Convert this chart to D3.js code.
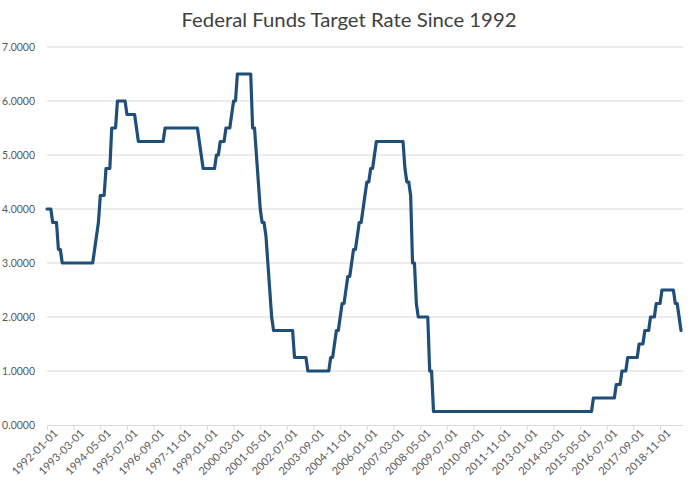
<!DOCTYPE html>
<html><head><meta charset="utf-8">
<script src="https://cdn.jsdelivr.net/npm/d3@7"></script>
<style>body{margin:0;background:#fff}svg{display:block}</style>
</head><body>
<svg id="c" width="693" height="483"></svg>
<script>
const title = "Federal Funds Target Rate Since 1992";
const startYear = 1992;
// end-of-month target rate, one row per year (Jan..Dec)
const rates1992_1999 = [
  [4.00,4.00,4.00,3.75,3.75,3.75,3.25,3.25,3.00,3.00,3.00,3.00],
  [3.00,3.00,3.00,3.00,3.00,3.00,3.00,3.00,3.00,3.00,3.00,3.00],
  [3.00,3.25,3.50,3.75,4.25,4.25,4.25,4.75,4.75,4.75,5.50,5.50],
  [5.50,6.00,6.00,6.00,6.00,6.00,5.75,5.75,5.75,5.75,5.75,5.50],
  [5.25,5.25,5.25,5.25,5.25,5.25,5.25,5.25,5.25,5.25,5.25,5.25],
  [5.25,5.25,5.50,5.50,5.50,5.50,5.50,5.50,5.50,5.50,5.50,5.50],
  [5.50,5.50,5.50,5.50,5.50,5.50,5.50,5.50,5.25,5.00,4.75,4.75],
  [4.75,4.75,4.75,4.75,4.75,5.00,5.00,5.25,5.25,5.25,5.50,5.50]
];
const rates2000_2008 = [
  [5.50,5.75,6.00,6.00,6.50,6.50,6.50,6.50,6.50,6.50,6.50,6.50],
  [5.50,5.50,5.00,4.50,4.00,3.75,3.75,3.50,3.00,2.50,2.00,1.75],
  [1.75,1.75,1.75,1.75,1.75,1.75,1.75,1.75,1.75,1.75,1.25,1.25],
  [1.25,1.25,1.25,1.25,1.25,1.00,1.00,1.00,1.00,1.00,1.00,1.00],
  [1.00,1.00,1.00,1.00,1.00,1.25,1.25,1.50,1.75,1.75,2.00,2.25],
  [2.25,2.50,2.75,2.75,3.00,3.25,3.25,3.50,3.75,3.75,4.00,4.25],
  [4.50,4.50,4.75,4.75,5.00,5.25,5.25,5.25,5.25,5.25,5.25,5.25],
  [5.25,5.25,5.25,5.25,5.25,5.25,5.25,5.25,4.75,4.50,4.50,4.25],
  [3.00,3.00,2.25,2.00,2.00,2.00,2.00,2.00,2.00,1.00,1.00,0.25]
];
const rates2009_2019 = [
  [0.25,0.25,0.25,0.25,0.25,0.25,0.25,0.25,0.25,0.25,0.25,0.25],
  [0.25,0.25,0.25,0.25,0.25,0.25,0.25,0.25,0.25,0.25,0.25,0.25],
  [0.25,0.25,0.25,0.25,0.25,0.25,0.25,0.25,0.25,0.25,0.25,0.25],
  [0.25,0.25,0.25,0.25,0.25,0.25,0.25,0.25,0.25,0.25,0.25,0.25],
  [0.25,0.25,0.25,0.25,0.25,0.25,0.25,0.25,0.25,0.25,0.25,0.25],
  [0.25,0.25,0.25,0.25,0.25,0.25,0.25,0.25,0.25,0.25,0.25,0.25],
  [0.25,0.25,0.25,0.25,0.25,0.25,0.25,0.25,0.25,0.25,0.25,0.50],
  [0.50,0.50,0.50,0.50,0.50,0.50,0.50,0.50,0.50,0.50,0.50,0.75],
  [0.75,0.75,1.00,1.00,1.00,1.25,1.25,1.25,1.25,1.25,1.25,1.50],
  [1.50,1.50,1.75,1.75,1.75,2.00,2.00,2.00,2.25,2.25,2.25,2.50],
  [2.50,2.50,2.50,2.50,2.50,2.50,2.25,2.25,2.00,1.75]
];
const yTicks = [0,1,2,3,4,5,6,7];
const labelStep = 14;

// build month categories
const rows = [...rates1992_1999, ...rates2000_2008, ...rates2009_2019];
const data = [];
rows.forEach((row, yi) => row.forEach((v, mi) => {
  data.push({date: `${startYear + yi}-${String(mi + 1).padStart(2, "0")}-01`, value: v});
}));
const categories = data.map(d => d.date);
const tickLabels = categories.filter((d, i) => i % labelStep === 0);

const svg = d3.select("#c");
const x = d3.scalePoint().domain(categories).range([47, 681]);
const y = d3.scaleLinear().domain([0, 7]).range([425, 47]);

// gridlines
svg.append("g").selectAll("line").data(yTicks.filter(t => t > 0)).join("line")
  .attr("x1", 47).attr("x2", 683)
  .attr("y1", d => y(d)).attr("y2", d => y(d))
  .attr("stroke", "#d9d9d9").attr("stroke-width", 1);

// y labels
svg.append("g").selectAll("text").data(yTicks).join("text")
  .attr("x", 35).attr("y", d => y(d)).attr("dy", "0.35em")
  .attr("text-anchor", "end")
  .attr("font-family", "Lato, 'Open Sans', sans-serif").attr("font-size", 10.5)
  .attr("fill", "#595959")
  .text(d => d.toFixed(4));

// x axis
const xAxis = d3.axisBottom(x).tickValues(tickLabels).tickSize(5).tickSizeOuter(0);
const gx = svg.append("g").attr("transform", "translate(0,425)").call(xAxis);
gx.select(".domain").attr("stroke", "#d9d9d9").attr("d", "M47,0.5H683");
gx.selectAll(".tick line").attr("stroke", "#d9d9d9");
gx.selectAll(".tick text")
  .attr("font-family", "Lato, 'Open Sans', sans-serif").attr("font-size", 11)
  .attr("fill", "#595959")
  .attr("text-anchor", "end")
  .attr("transform", "translate(4,2) rotate(-45)")
  .attr("x", 0).attr("y", 6).attr("dy", "0.35em");

// line
const line = d3.line().x(d => x(d.date)).y(d => y(d.value));
svg.append("path").datum(data)
  .attr("d", line)
  .attr("fill", "none").attr("stroke", "#1f4e79")
  .attr("stroke-width", 3.2).attr("stroke-linejoin", "round").attr("stroke-linecap", "round");

// title
svg.append("text").attr("x", 349).attr("y", 27)
  .attr("text-anchor", "middle")
  .attr("font-family", "Lato, 'Open Sans', sans-serif").attr("font-size", 19)
  .attr("fill", "#404040")
  .attr("textLength", 335).attr("lengthAdjust", "spacingAndGlyphs")
  .text(title);
</script>
</body></html>
